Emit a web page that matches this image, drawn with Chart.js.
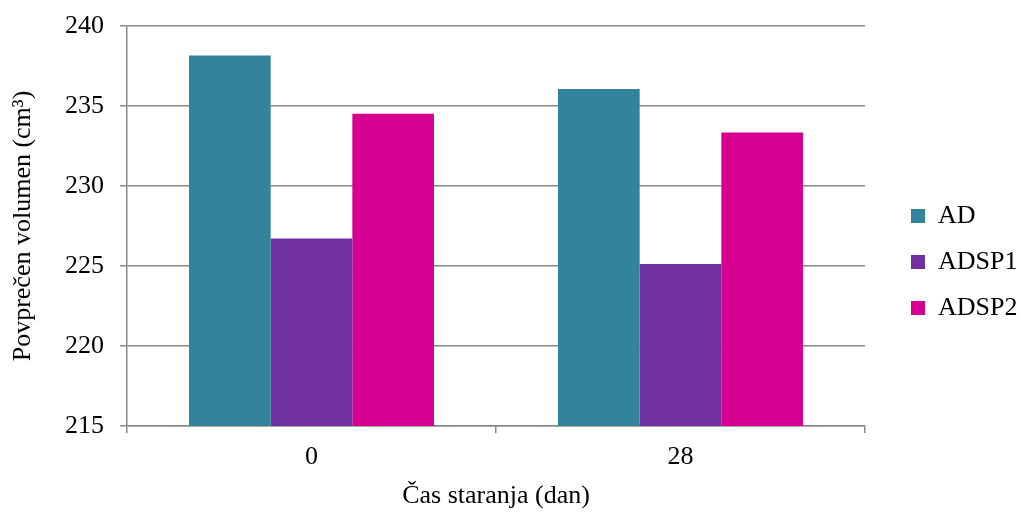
<!DOCTYPE html>
<html>
<head>
<meta charset="utf-8">
<script src="https://cdn.jsdelivr.net/npm/chart.js@4/dist/chart.umd.min.js"></script>
<style>
  html, body { margin: 0; padding: 0; background: #fff; }
  #wrap { width: 1021px; height: 512px; }
</style>
</head>
<body>
<div id="wrap"><canvas id="c" width="1021" height="512"></canvas></div>
<script>
const categories = ['0', '28'];
const seriesNames = ['AD', 'ADSP1', 'ADSP2'];
const valuesAD = [238.15, 236.07];
const valuesADSP1 = [226.72, 225.13];
const valuesADSP2 = [234.51, 233.35];
const seriesColors = ['#31849B', '#7030A0', '#D60093'];
const yMin = 215, yMax = 240, yStep = 5;
const yTitle = 'Povprečen volumen (cm³)';
const xTitle = 'Čas staranja (dan)';

const FONT = '"Liberation Serif", "Times New Roman", serif';
const GRID = '#8a8a8a';
const GRID_W = 1.5;

const legendFix = {
  id: 'legendFix',
  afterInit(chart) {
    const lg = chart.legend;
    const orig = lg.fit;
    lg.fit = function () { orig.call(this); this.width = 156; };
  },
  afterLayout(chart) {
    const lg = chart.legend;
    const pad = lg.options.labels.padding;
    const dx = 911 - (lg.left + pad);
    lg.left += dx; lg.right += dx;
    const dy = 203 - (lg.top + pad);
    lg.top += dy; lg.bottom += dy;
  }
};

new Chart(document.getElementById('c'), {
  type: 'bar',
  data: {
    labels: categories,
    datasets: [
      { label: seriesNames[0], data: valuesAD, backgroundColor: seriesColors[0] },
      { label: seriesNames[1], data: valuesADSP1, backgroundColor: seriesColors[1] },
      { label: seriesNames[2], data: valuesADSP2, backgroundColor: seriesColors[2] }
    ]
  },
  plugins: [legendFix],
  options: {
    responsive: false,
    animation: false,
    devicePixelRatio: 1,
    layout: { padding: { top: 26, left: 0, right: 0, bottom: 0 } },
    datasets: { bar: { categoryPercentage: 0.664, barPercentage: 1.0, borderWidth: 0 } },
    plugins: {
      tooltip: { enabled: false },
      legend: {
        position: 'right',
        align: 'start',
        labels: {
          boxWidth: 14,
          boxHeight: 14,
          padding: 20,
          color: '#000',
          font: { family: FONT, size: 26 }
        }
      }
    },
    scales: {
      x: {
        grid: { drawOnChartArea: false, drawTicks: true, tickLength: 7, color: GRID, lineWidth: GRID_W, offset: true },
        border: { display: true, color: GRID, width: GRID_W },
        ticks: { color: '#000', font: { family: FONT, size: 26 }, padding: 9, maxRotation: 0 },
        title: { display: true, text: xTitle, color: '#000', font: { family: FONT, size: 26 }, padding: { top: 0, bottom: 0 } },
        afterFit(scale) { scale.height = 86; scale.paddingLeft = 0; scale.paddingRight = 0; }
      },
      y: {
        min: yMin,
        max: yMax,
        grid: { color: GRID, lineWidth: GRID_W, tickLength: 7 },
        border: { display: true, color: GRID, width: GRID_W },
        ticks: { stepSize: yStep, color: '#000', font: { family: FONT, size: 26 }, padding: 16 },
        title: { display: true, text: yTitle, color: '#000', font: { family: FONT, size: 26 }, padding: { top: 8, bottom: 0 } },
        afterFit(scale) { scale.width = 127; scale.paddingTop = 0; scale.paddingBottom = 0; }
      }
    }
  }
});
</script>
</body>
</html>
